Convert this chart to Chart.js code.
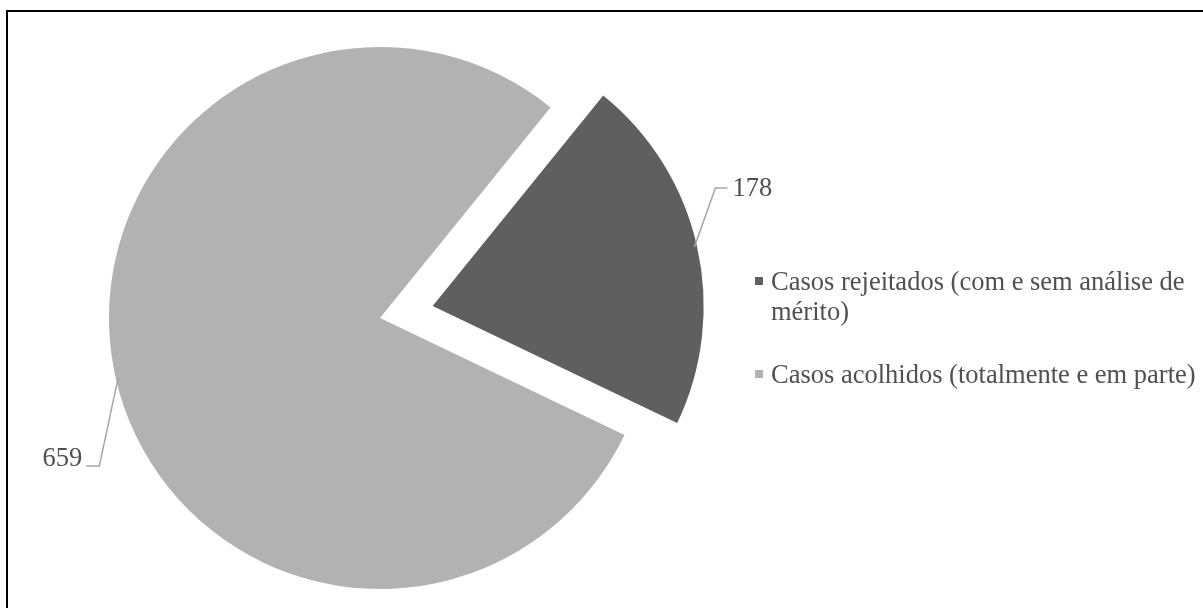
<!DOCTYPE html>
<html>
<head>
<meta charset="utf-8">
<script src="https://cdn.jsdelivr.net/npm/chart.js@4/dist/chart.umd.min.js"></script>
<style>
  html, body { margin: 0; padding: 0; background: #fff; overflow: hidden; }
  #wrap { position: relative; width: 1203px; height: 608px; }
</style>
</head>
<body>
<div id="wrap"><canvas id="chartPie"></canvas></div>
<script>
// data
const categories = ['Casos rejeitados (com e sem análise de mérito)', 'Casos acolhidos (totalmente e em parte)'];
const values = [178, 659];
const valueLabels = ['178', '659'];

// styles
const colors = ['#5f5f5f', '#b2b2b2'];
const explode = [54, 0];
const textColor = '#505050';
const fontFamily = '"Liberation Serif", "Times New Roman", serif';
// leader line layout relative to the slice anchor: elbow, end, text side
const leaders = [
    { elbow: [21, -59], end: [33, -59], align: 'left', textDx: 5, textDy: 8 },
    { elbow: [-19, 89], end: [-32, 89], align: 'right', textDx: -4, textDy: 0 }
];

const explodePlugin = {
    id: 'explodeSlices',
    beforeDatasetDraw(chart, args) {
        const ctx = chart.ctx;
        args.meta.data.forEach((arc, i) => {
            const p = arc.getProps(['startAngle', 'endAngle']);
            const mid = (p.startAngle + p.endAngle) / 2;
            ctx.save();
            ctx.translate(Math.cos(mid) * explode[i], Math.sin(mid) * explode[i]);
            arc.draw(ctx);
            ctx.restore();
        });
        return false;
    }
};

const labelsPlugin = {
    id: 'leaderLabels',
    afterDatasetsDraw(chart) {
        const ctx = chart.ctx;
        const meta = chart.getDatasetMeta(0);
        ctx.save();
        ctx.font = '26.5px ' + fontFamily;
        meta.data.forEach((arc, i) => {
            const p = arc.getProps(['x', 'y', 'startAngle', 'endAngle', 'outerRadius']);
            const mid = (p.startAngle + p.endAngle) / 2;
            const r = p.outerRadius * 0.99;
            const ax = p.x + Math.cos(mid) * (r + explode[i]);
            const ay = p.y + Math.sin(mid) * (r + explode[i]);
            const L = leaders[i];
            ctx.strokeStyle = '#a6a6a6';
            ctx.lineWidth = 1.5;
            ctx.beginPath();
            ctx.moveTo(ax, ay);
            ctx.lineTo(ax + L.elbow[0], ay + L.elbow[1]);
            ctx.lineTo(ax + L.end[0], ay + L.end[1]);
            ctx.stroke();
            ctx.fillStyle = textColor;
            ctx.textAlign = L.align;
            ctx.textBaseline = 'alphabetic';
            ctx.fillText(valueLabels[i], ax + L.end[0] + L.textDx, ay + L.end[1] + L.textDy);
        });
        ctx.restore();
    }
};

function wrapText(ctx, text, maxWidth) {
    const words = text.split(' ');
    const lines = [];
    let line = '';
    words.forEach(w => {
        const test = line ? line + ' ' + w : w;
        if (ctx.measureText(test).width > maxWidth && line) {
            lines.push(line);
            line = w;
        } else {
            line = test;
        }
    });
    lines.push(line);
    return lines;
}

const legendPlugin = {
    id: 'sideLegend',
    afterDraw(chart) {
        const ctx = chart.ctx;
        ctx.save();
        ctx.font = '26.5px ' + fontFamily;
        ctx.textAlign = 'left';
        ctx.textBaseline = 'alphabetic';
        let y = 290;
        categories.forEach((c, i) => {
            ctx.fillStyle = colors[i];
            ctx.fillRect(755, y - 13, 8, 8);
            ctx.fillStyle = textColor;
            const lines = wrapText(ctx, c, 432);
            lines.forEach((ln, k) => {
                ctx.fillText(ln, 771, y + k * 30);
            });
            y += lines.length * 30 + 33;
        });
        // outer frame
        ctx.strokeStyle = '#000';
        ctx.lineWidth = 2;
        ctx.strokeRect(7, 11, 1300, 700);
        ctx.restore();
    }
};

new Chart(document.getElementById('chartPie'), {
    type: 'pie',
    data: {
        labels: categories,
        datasets: [{
            data: values,
            backgroundColor: colors,
            borderWidth: 0
        }]
    },
    options: {
        responsive: true,
        maintainAspectRatio: false,
        animation: false,
        rotation: 39,
        layout: { padding: { left: 109, right: 552, top: 47, bottom: 19 } },
        plugins: {
            legend: { display: false },
            tooltip: { enabled: false }
        }
    },
    plugins: [explodePlugin, labelsPlugin, legendPlugin]
});
</script>
</body>
</html>
